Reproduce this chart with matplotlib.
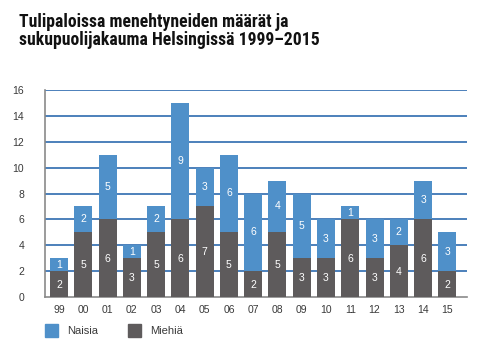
import numpy as np
import matplotlib
matplotlib.use("Agg")
import matplotlib.pyplot as plt
from matplotlib.patches import Rectangle

years = ["99", "00", "01", "02", "03", "04", "05", "06", "07", "08",
         "09", "10", "11", "12", "13", "14", "15"]
miehia = [2, 5, 6, 3, 5, 6, 7, 5, 2, 5, 3, 3, 6, 3, 4, 6, 2]
naisia = [1, 2, 5, 1, 2, 9, 3, 6, 6, 4, 5, 3, 1, 3, 2, 3, 3]

blue = "#4f90c9"
gray = "#5e5b5c"
grid_blue = "#1b5ea8"
text_col = "#3a3a3a"

plt.rcParams["font.family"] = ["Liberation Sans", "DejaVu Sans"]

fig = plt.figure(figsize=(4.95, 3.51), dpi=100)
W, H = 495, 351
ax = fig.add_axes([45 / W, 1 - 297 / H, (467 - 45) / W, (297 - 90) / H])

x = np.arange(len(years))
ax.bar(x, miehia, width=0.74, color=gray, zorder=3)
ax.bar(x, naisia, width=0.74, bottom=miehia, color=blue, zorder=3)

for i in range(len(years)):
    ax.text(x[i], miehia[i] / 2 - 0.05, str(miehia[i]), ha="center", va="center",
            color="white", fontsize=7.5, zorder=4)
    ax.text(x[i], miehia[i] + naisia[i] / 2, str(naisia[i]), ha="center", va="center",
            color="white", fontsize=7.5, zorder=4)

ax.set_xlim(-0.577, 16.81)
ax.set_ylim(0, 16)
ax.set_yticks(range(0, 17, 2))
ax.set_xticks(x)
ax.set_xticklabels(years)
for y in range(2, 17, 2):
    ax.axhline(y, color=grid_blue, lw=1.1, zorder=1)

for s in ["top", "right"]:
    ax.spines[s].set_visible(False)
ax.spines["left"].set_color("#8a8a8a")
ax.spines["bottom"].set_color("#8a8a8a")
ax.spines["left"].set_linewidth(1.2)
ax.spines["bottom"].set_linewidth(1.2)
ax.tick_params(axis="both", length=0, labelsize=7.5, colors=text_col)
ax.tick_params(axis="y", pad=15)
ax.tick_params(axis="x", pad=6)

fig.text(19 / W, 1 - 13 / H,
         "Tulipaloissa menehtyneiden määrät ja\nsukupuolijakauma Helsingissä 1999–2015",
         ha="left", va="top", fontsize=12.7, fontweight="bold",
         family=["Roboto Condensed", "Liberation Sans"], linespacing=0.97,
         color="#111111")

# legend
for lx, label, col in [(45, "Naisia", blue), (128, "Miehiä", gray)]:
    fig.patches.append(Rectangle((lx / W, 1 - 337 / H), 13 / W, 13 / H,
                                 transform=fig.transFigure, color=col))
    fig.text((lx + 22) / W, 1 - 331 / H, label, ha="left", va="center",
             fontsize=8, color=text_col)

fig.savefig("out.png", dpi=100)
